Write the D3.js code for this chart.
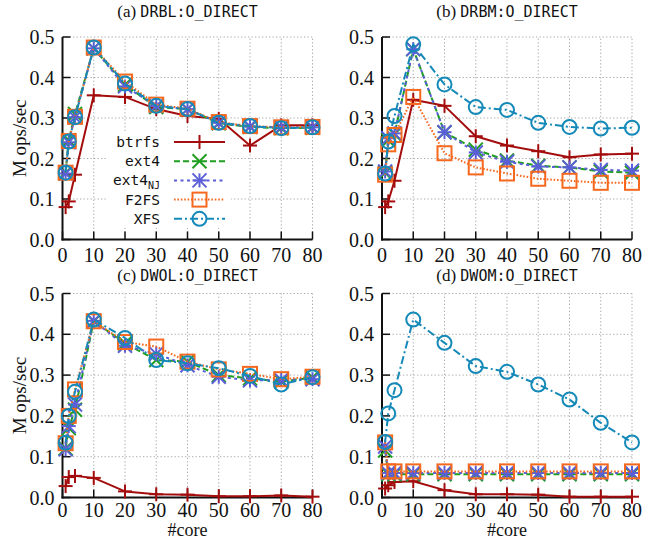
<!DOCTYPE html>
<html><head><meta charset="utf-8">
<script src="https://cdn.jsdelivr.net/npm/d3@7"></script>
<style>body{margin:0;background:#fff}</style>
</head><body>
<svg id="chart" width="656" height="539"></svg>
<script>
// ---- data ----
const cores = [1, 2, 4, 10, 20, 30, 40, 50, 60, 70, 80];
const xTicks = [0, 10, 20, 30, 40, 50, 60, 70, 80];
const yTicks = [0.0, 0.1, 0.2, 0.3, 0.4, 0.5];
const seriesNames = ["btrfs", "ext4", "ext4NJ", "F2FS", "XFS"];
const panelTags = ["(a)", "(b)", "(c)", "(d)"];
const panelNames = ["DRBL:O_DIRECT", "DRBM:O_DIRECT", "DWOL:O_DIRECT", "DWOM:O_DIRECT"];

const drblBtrfs = [0.080, 0.094, 0.160, 0.356, 0.352, 0.322, 0.305, 0.298, 0.232, 0.282, 0.282];
const drblExt4 = [0.165, 0.245, 0.310, 0.472, 0.382, 0.327, 0.322, 0.287, 0.278, 0.275, 0.276];
const drblExt4NJ = [0.163, 0.240, 0.302, 0.472, 0.378, 0.330, 0.322, 0.288, 0.279, 0.277, 0.277];
const drblF2FS = [0.165, 0.243, 0.303, 0.474, 0.390, 0.333, 0.323, 0.290, 0.280, 0.277, 0.278];
const drblXFS = [0.165, 0.242, 0.302, 0.474, 0.385, 0.330, 0.322, 0.288, 0.280, 0.275, 0.277];

const drbmBtrfs = [0.080, 0.094, 0.145, 0.345, 0.330, 0.255, 0.232, 0.218, 0.203, 0.210, 0.212];
const drbmExt4 = [0.165, 0.245, 0.260, 0.470, 0.265, 0.222, 0.195, 0.182, 0.178, 0.168, 0.165];
const drbmExt4NJ = [0.168, 0.250, 0.262, 0.470, 0.265, 0.215, 0.192, 0.180, 0.178, 0.172, 0.170];
const drbmF2FS = [0.160, 0.235, 0.258, 0.352, 0.213, 0.178, 0.163, 0.150, 0.145, 0.140, 0.140];
const drbmXFS = [0.163, 0.242, 0.305, 0.482, 0.383, 0.327, 0.320, 0.288, 0.278, 0.274, 0.276];

const dwolBtrfs = [0.028, 0.050, 0.053, 0.048, 0.015, 0.008, 0.007, 0.003, 0.003, 0.005, 0.002];
const dwolExt4 = [0.120, 0.170, 0.215, 0.432, 0.378, 0.337, 0.333, 0.300, 0.292, 0.284, 0.294];
const dwolExt4NJ = [0.118, 0.175, 0.228, 0.433, 0.372, 0.352, 0.324, 0.296, 0.287, 0.288, 0.290];
const dwolF2FS = [0.133, 0.200, 0.265, 0.432, 0.381, 0.370, 0.333, 0.314, 0.303, 0.290, 0.296];
const dwolXFS = [0.134, 0.200, 0.259, 0.436, 0.391, 0.337, 0.329, 0.317, 0.298, 0.277, 0.295];

const dwomBtrfs = [0.022, 0.030, 0.038, 0.040, 0.018, 0.008, 0.008, 0.007, 0.002, 0.002, 0.002];
const dwomExt4 = [0.115, 0.057, 0.057, 0.057, 0.057, 0.057, 0.057, 0.057, 0.057, 0.057, 0.057];
const dwomExt4NJ = [0.125, 0.060, 0.060, 0.060, 0.060, 0.060, 0.060, 0.060, 0.060, 0.060, 0.060];
const dwomF2FS = [0.135, 0.064, 0.064, 0.064, 0.064, 0.064, 0.064, 0.064, 0.064, 0.064, 0.064];
const dwomXFS = [0.136, 0.206, 0.263, 0.436, 0.379, 0.322, 0.308, 0.277, 0.240, 0.183, 0.135];

const panelData = [
  [drblBtrfs, drblExt4, drblExt4NJ, drblF2FS, drblXFS],
  [drbmBtrfs, drbmExt4, drbmExt4NJ, drbmF2FS, drbmXFS],
  [dwolBtrfs, dwolExt4, dwolExt4NJ, dwolF2FS, dwolXFS],
  [dwomBtrfs, dwomExt4, dwomExt4NJ, dwomF2FS, dwomXFS]
];

// ---- styles ----
const colors = ["#a40d0d", "#1f9e1f", "#5a5fd8", "#f5681e", "#1589b8"];
const dashes = [null, "6,3", "3,3.5", "1.6,1.8", "8,3,2,3"];
const markerTypes = ["plus", "cross", "star", "square", "circle"];
const serif = "'Liberation Serif','Times New Roman',serif";
const mono = "'DejaVu Sans Mono','Liberation Mono',monospace";

const svg = d3.select("#chart");
const geom = [
  {x0: 62.5, y0: 37, w: 250, h: 202.5, titleY: 17, tickDy: 22},
  {x0: 382, y0: 37, w: 250, h: 202.5, titleY: 17, tickDy: 22},
  {x0: 62.5, y0: 293.5, w: 250, h: 204, titleY: 281, tickDy: 19},
  {x0: 382, y0: 293.5, w: 250, h: 204, titleY: 281, tickDy: 19}
];

function drawMarker(g, type, cx, cy, color) {
  const s = 7;
  const seg = (x1, y1, x2, y2) => {
    g.append("line").attr("x1", cx + x1).attr("y1", cy + y1).attr("x2", cx + x2).attr("y2", cy + y2)
      .attr("stroke", color).attr("stroke-width", 2);
  };
  if (type === "plus" || type === "star") { seg(-s, 0, s, 0); seg(0, -s, 0, s); }
  if (type === "cross" || type === "star") { seg(-s, -s, s, s); seg(-s, s, s, -s); }
  if (type === "square") {
    g.append("rect").attr("x", cx - s).attr("y", cy - s).attr("width", 2 * s).attr("height", 2 * s)
      .attr("stroke", color).attr("stroke-width", 2).attr("fill", "none");
  }
  if (type === "circle") {
    g.append("circle").attr("cx", cx).attr("cy", cy).attr("r", s)
      .attr("stroke", color).attr("stroke-width", 2).attr("fill", "none");
  }
}

geom.forEach((p, i) => {
  const x = d3.scaleLinear().domain([0, 80]).range([p.x0, p.x0 + p.w]);
  const y = d3.scaleLinear().domain([0, 0.5]).range([p.y0 + p.h, p.y0]);
  const g = svg.append("g");

  // grid
  const grid = g.append("g").attr("stroke", "#aaa").attr("stroke-width", 1).attr("stroke-dasharray", "1.3,2.2");
  yTicks.filter(t => t > 0).forEach(t => grid.append("line").attr("x1", x(0)).attr("x2", x(80)).attr("y1", y(t)).attr("y2", y(t)));
  xTicks.filter(t => t > 0).forEach(t => grid.append("line").attr("x1", x(t)).attr("x2", x(t)).attr("y1", y(0)).attr("y2", y(0.5)));

  // axes
  const ax = g.append("g").attr("stroke", "#111").attr("stroke-width", 2);
  ax.append("line").attr("x1", x(0)).attr("x2", x(0)).attr("y1", y(0) + 1).attr("y2", y(0.5));
  ax.append("line").attr("x1", x(0) - 1).attr("x2", x(80)).attr("y1", y(0)).attr("y2", y(0));
  yTicks.forEach(t => ax.append("line").attr("x1", x(0)).attr("x2", x(0) + 8).attr("y1", y(t)).attr("y2", y(t)).attr("stroke-width", 1.5));
  xTicks.forEach(t => ax.append("line").attr("x1", x(t)).attr("x2", x(t)).attr("y1", y(0)).attr("y2", y(0) - 8).attr("stroke-width", 1.5));

  // tick labels
  yTicks.forEach(t => g.append("text").attr("x", x(0) - 8).attr("y", y(t)).attr("dy", "0.35em")
    .attr("text-anchor", "end").attr("font-family", serif).attr("font-size", 20).attr("fill", "#111").text(d3.format(".1f")(t)));
  xTicks.forEach(t => g.append("text").attr("x", x(t)).attr("y", y(0) + p.tickDy)
    .attr("text-anchor", "middle").attr("font-family", serif).attr("font-size", 20).attr("fill", "#111").text(t));

  // title
  const title = g.append("text").attr("x", x(40)).attr("y", p.titleY).attr("text-anchor", "middle").attr("fill", "#111");
  title.append("tspan").attr("font-family", serif).attr("font-size", 17).text(panelTags[i] + " ");
  title.append("tspan").attr("font-family", mono).attr("font-size", 15).text(panelNames[i]);

  if (i % 2 === 0) {
    g.append("text").attr("transform", `translate(26,${p.y0 + p.h / 2}) rotate(-90)`).attr("text-anchor", "middle")
      .attr("font-family", serif).attr("font-size", 19).attr("fill", "#111").text("M ops/sec");
  }
  if (i >= 2) {
    g.append("text").attr("x", x(40)).attr("y", 535.5).attr("text-anchor", "middle")
      .attr("font-family", serif).attr("font-size", 18).attr("fill", "#111").text("#core");
  }

  // legend in panel (a)
  if (i === 0) {
    const lg = g.append("g");
    lg.append("rect").attr("x", 106).attr("y", 131).attr("width", 125).attr("height", 97).attr("fill", "#fff");
    seriesNames.forEach((n, k) => {
      const ly = 142 + k * 19.2;
      const t = lg.append("text").attr("x", 160).attr("y", ly).attr("dy", "0.35em").attr("text-anchor", "end")
        .attr("font-family", mono).attr("font-size", 14.5).attr("fill", "#111");
      if (n === "ext4NJ") {
        t.append("tspan").text("ext4");
        t.append("tspan").attr("font-size", 10).attr("dy", "0.35em").text("NJ");
      } else t.text(n);
      const l = lg.append("line").attr("x1", 174).attr("x2", 225).attr("y1", ly).attr("y2", ly)
        .attr("stroke", colors[k]).attr("stroke-width", 2);
      if (dashes[k]) l.attr("stroke-dasharray", dashes[k]);
      drawMarker(lg, markerTypes[k], 199.5, ly, colors[k]);
    });
  }

  // series
  const line = d3.line().x(d => x(d[0])).y(d => y(d[1]));
  panelData[i].forEach((vals, k) => {
    const pts = cores.map((c, j) => [c, vals[j]]);
    const path = g.append("path").datum(pts).attr("d", line).attr("fill", "none")
      .attr("stroke", colors[k]).attr("stroke-width", 2).attr("stroke-linejoin", "round");
    if (dashes[k]) path.attr("stroke-dasharray", dashes[k]);
    const mg = g.append("g");
    pts.forEach(d => drawMarker(mg, markerTypes[k], x(d[0]), y(d[1]), colors[k]));
  });
});
</script>
</body></html>
